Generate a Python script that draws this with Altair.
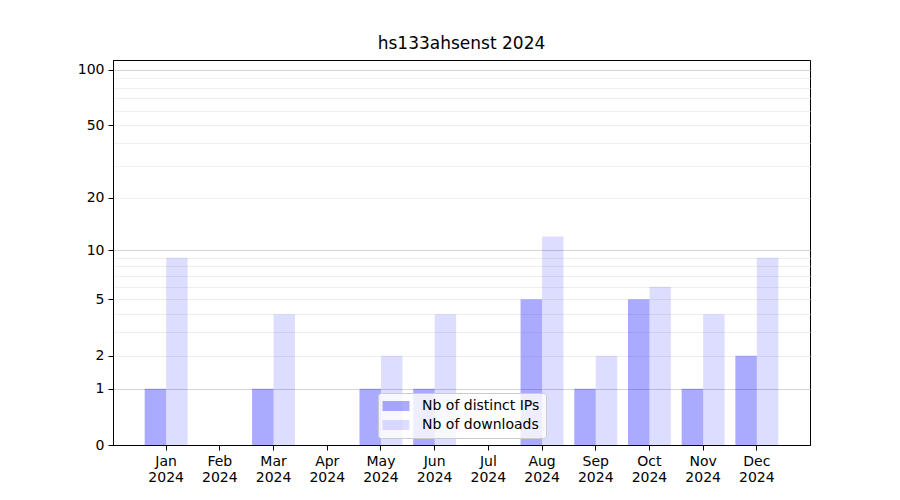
import altair as alt
import pandas as pd

months = ["Jan", "Feb", "Mar", "Apr", "May", "Jun", "Jul", "Aug", "Sep", "Oct", "Nov", "Dec"]
distinct_ips = [1, 0, 1, 0, 1, 1, 0, 5, 1, 5, 1, 2]
downloads = [9, 0, 4, 0, 2, 4, 0, 12, 2, 6, 4, 9]
series_names = ["Nb of distinct IPs", "Nb of downloads"]
y_tick_labels = [0, 1, 2, 5, 10, 20, 50, 100]
major_grid = [1, 10, 100]
minor_grid = [2, 3, 4, 5, 6, 7, 8, 9, 20, 30, 40, 50, 60, 70, 80, 90]

rows = []
for m, a, b in zip(months, distinct_ips, downloads):
    rows.append({"month": m, "series": series_names[0], "value": a})
    rows.append({"month": m, "series": series_names[1], "value": b})
df = pd.DataFrame(rows)

all_values = sorted(set([0] + major_grid + minor_grid))
labeled = "[" + ",".join(str(v) for v in y_tick_labels) + "]"
majors = "[" + ",".join(str(v) for v in major_grid) + "]"

FONT = "DejaVu Sans"
y_scale = alt.Scale(type="symlog", constant=1, domain=[0, 113], nice=False)
x_scale = alt.Scale(paddingInner=0.2, paddingOuter=0.59, domain=months)
y_axis = alt.Axis(
    title=None, values=all_values, grid=True,
    gridColor={"condition": {"test": f"indexof({majors}, datum.value) >= 0", "value": "#c8c8c8"},
               "value": "#ebebeb"},
    gridOpacity={"condition": {"test": "datum.value == 0", "value": 0}, "value": 1},
    gridWidth=0.8,
    tickOpacity={"condition": {"test": f"indexof({labeled}, datum.value) >= 0", "value": 1},
                 "value": 0},
    labelExpr=f"indexof({labeled}, datum.value) >= 0 ? datum.label : ''",
    labelFont=FONT, labelFontSize=14, labelColor="black",
    tickColor="black", tickSize=5, labelPadding=4,
    domainColor="black")

bars = alt.Chart(df).mark_bar().encode(
    x=alt.X("month:N", scale=x_scale, sort=months,
            axis=alt.Axis(title=None, labelAngle=0, labelExpr="[datum.value, '2024']",
                          labelFont=FONT, labelFontSize=14, labelColor="black",
                          tickColor="black", tickSize=5, labelPadding=4,
                          domainColor="black", labelLineHeight=16)),
    xOffset=alt.XOffset("series:N", sort=series_names, scale=alt.Scale(paddingInner=0, paddingOuter=0)),
    y=alt.Y("value:Q", scale=y_scale, axis=y_axis),
    color=alt.Color("series:N", sort=series_names,
                    scale=alt.Scale(domain=series_names,
                                    range=["rgba(0,0,255,0.333)", "rgba(0,0,255,0.133)"]),
                    legend=alt.Legend(title=None, orient="none", legendX=265, legendY=333,
                                      symbolType="M-2.7,-1H2.7V1H-2.7Z", symbolSize=100,
                                      symbolStrokeWidth=0, symbolOffset=5,
                                      labelFont=FONT, labelFontSize=14,
                                      labelColor="black", labelOffset=19, rowPadding=5,
                                      padding=6, fillColor="rgba(255,255,255,0.8)",
                                      strokeColor="#cccccc", cornerRadius=3)),
)

chart = bars.properties(
    width=697, height=385,
    title=alt.Title("hs133ahsenst 2024", font=FONT, fontSize=17, fontWeight="normal",
                    color="black", offset=7),
    autosize=alt.AutoSizeParams(type="none"),
    padding={"left": 105, "top": 52, "right": 82, "bottom": 47},
).configure_view(stroke="black", strokeWidth=1)

chart.save("out.html", embed_options={"renderer": "svg", "actions": False})
